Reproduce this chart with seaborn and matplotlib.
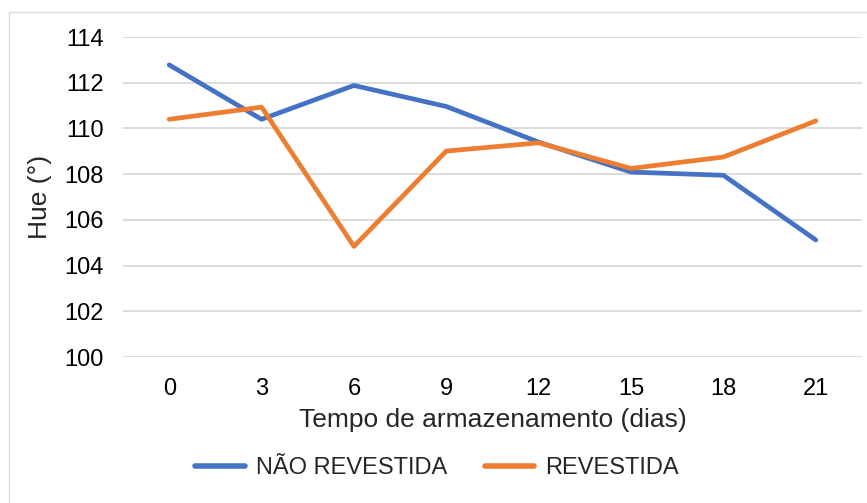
import pandas as pd
import matplotlib.pyplot as plt
import seaborn as sns
from matplotlib.patches import Rectangle

# Values
dias = [0, 3, 6, 9, 12, 15, 18, 21]
nao_revestida = [112.78, 110.40, 111.88, 110.96, 109.40, 108.09, 107.95, 105.12]
revestida = [110.40, 110.93, 104.84, 109.01, 109.37, 108.25, 108.75, 110.33]
series = ['NÃO REVESTIDA', 'REVESTIDA']
cores = ['#4472C4', '#ED7D31']
y_ticks = [100, 102, 104, 106, 108, 110, 112, 114]

# Long format table for seaborn
df = pd.DataFrame({
    'pos': list(range(len(dias))) * 2,
    'Hue': nao_revestida + revestida,
    'Amostra': [series[0]] * len(dias) + [series[1]] * len(dias),
})

sns.set_theme(style='white')
plt.rcParams['font.family'] = ['Liberation Sans', 'DejaVu Sans']

fig = plt.figure(figsize=(8.67, 5.03), dpi=100)
ax = fig.add_axes([123 / 867, 1 - 357 / 503, 739 / 867, 320 / 503])

sns.lineplot(data=df, x='pos', y='Hue', hue='Amostra', palette=cores,
             linewidth=3.4, ax=ax, legend=False, zorder=3)
for ln in ax.lines:
    ln.set_solid_capstyle('round')
    ln.set_solid_joinstyle('round')

# Axis styling like Excel
ax.set_xlim(-0.5, len(dias) - 0.5)
ax.set_ylim(100, 114)
ax.set_xticks(range(len(dias)))
ax.set_xticklabels([str(d) for d in dias])
ax.set_yticks(y_ticks)
ax.yaxis.grid(True, color='#D9D9D9', linewidth=1.3)
ax.set_axisbelow(True)
for s in ax.spines.values():
    s.set_visible(False)
ax.tick_params(axis='both', length=0, labelsize=17, colors='black')
ax.tick_params(axis='x', pad=15)
ax.tick_params(axis='y', pad=14)
ax.set_xlabel('Tempo de armazenamento (dias)', fontsize=19, labelpad=6)
ax.set_ylabel('Hue (°)', fontsize=19, labelpad=9)

# Legend at the bottom
handles = [plt.Line2D([], [], color=c, linewidth=4.0, solid_capstyle='round')
           for c in cores]
fig.legend(handles, series, loc='center', ncol=2, frameon=False,
           bbox_to_anchor=(437 / 867, 1 - 468 / 503), fontsize=17,
           handlelength=2.1, columnspacing=1.6, handletextpad=0.45)

# Chart area border
fig.patches.append(Rectangle((9 / 867, -0.05), 1.0, 1 - 12 / 503 + 0.05,
                             transform=fig.transFigure, fill=False,
                             edgecolor='#D9D9D9', linewidth=1.0))

fig.savefig('out.png', dpi=100)
